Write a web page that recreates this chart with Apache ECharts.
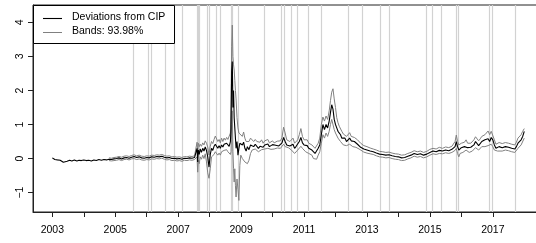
<!DOCTYPE html>
<html>
<head>
<meta charset="utf-8">
<script src="https://cdn.jsdelivr.net/npm/echarts@6/dist/echarts.min.js"></script>
<style>html,body{margin:0;padding:0;background:#fff}#c{width:536px;height:243px}</style>
</head>
<body>
<div id="c"></div>
<script>
// ---- data (decimal years) ----
const t = [
2003.00,2003.04,2003.08,2003.12,2003.16,2003.20,2003.25,2003.30,2003.35,2003.40,2003.47,2003.55,2003.62,2003.70,2003.78,2003.85,2003.92,2004.00,2004.08,2004.16,2004.24,2004.32,2004.40,2004.48,2004.56,2004.64,2004.72,2004.80,2004.88,2004.96,
2005.04,2005.12,2005.20,2005.28,2005.36,2005.44,2005.52,2005.60,2005.68,2005.76,2005.84,2005.92,2006.00,2006.08,2006.16,2006.24,2006.32,2006.40,2006.48,2006.56,2006.64,2006.72,2006.80,2006.88,2006.96,2007.04,2007.12,2007.20,2007.28,2007.36,2007.44,2007.52,2007.57,
2007.60,2007.62,2007.64,2007.67,2007.70,2007.74,2007.78,2007.82,2007.86,2007.90,2007.94,2007.98,2008.02,2008.06,2008.10,2008.14,2008.18,2008.22,2008.26,2008.30,2008.34,2008.38,2008.42,2008.46,2008.50,2008.54,2008.58,2008.62,2008.66,
2008.68,2008.70,2008.72,2008.74,2008.76,2008.78,2008.80,2008.82,2008.84,2008.87,2008.90,2008.93,2008.96,2008.99,
2009.04,2009.08,2009.12,2009.16,2009.20,2009.25,2009.30,2009.35,2009.40,2009.45,2009.50,2009.55,2009.60,2009.65,2009.70,2009.75,2009.80,2009.85,2009.90,2009.95,
2010.00,2010.05,2010.10,2010.15,2010.20,2010.25,2010.30,2010.35,2010.40,2010.45,2010.50,2010.55,2010.60,2010.65,2010.70,2010.75,2010.80,2010.85,2010.90,2010.95,
2011.00,2011.05,2011.10,2011.15,2011.20,2011.25,2011.30,2011.35,2011.40,2011.45,2011.50,
2011.55,2011.60,2011.65,2011.70,2011.75,2011.80,2011.84,2011.88,2011.92,2011.96,2012.00,2012.04,2012.08,2012.12,2012.16,2012.20,2012.25,2012.30,2012.35,2012.40,2012.45,2012.50,2012.55,2012.60,2012.65,2012.70,2012.75,2012.80,
2012.90,2013.00,2013.10,2013.20,2013.30,2013.40,2013.50,2013.60,2013.70,2013.80,2013.90,2014.00,2014.10,2014.20,2014.30,2014.40,2014.50,2014.60,2014.70,2014.80,2014.90,2015.00,2015.10,2015.20,2015.30,2015.40,2015.50,2015.60,2015.70,2015.76,2015.80,2015.84,2015.88,2015.92,2015.96,2016.00,
2016.05,2016.10,2016.15,2016.20,2016.25,2016.30,2016.35,2016.40,2016.45,2016.50,2016.55,2016.60,2016.65,2016.70,2016.75,2016.80,2016.85,2016.90,2016.95,2017.00,2017.05,2017.10,2017.15,2017.20,2017.30,2017.40,2017.50,2017.60,2017.70,2017.75,2017.80,2017.85,2017.90,2017.95,2018.00
];
const dev = [
0.02,0.00,-0.03,0.01,-0.04,-0.09,-0.05,-0.08,-0.11,-0.06,-0.08,-0.05,-0.07,-0.04,-0.07,-0.05,-0.06,-0.04,-0.06,-0.05,-0.07,-0.04,-0.06,-0.03,-0.05,-0.03,-0.04,-0.02,-0.03,-0.01,
0.00,0.02,-0.01,0.02,0.03,0.01,0.04,0.06,0.03,0.05,0.02,0.01,0.03,0.02,0.05,0.04,0.06,0.05,0.07,0.04,0.02,0.03,0.00,0.01,-0.01,0.00,-0.02,0.01,0.00,0.02,0.01,0.03,0.04,
0.30,-0.10,0.25,0.12,0.28,0.18,0.30,0.22,0.34,0.24,0.05,-0.25,0.12,0.30,0.24,0.36,0.42,0.46,0.30,0.38,0.30,0.40,0.34,0.42,0.37,0.45,0.40,0.36,0.50,
0.90,2.55,2.85,1.50,2.00,1.20,0.90,0.60,0.30,0.50,0.10,0.30,0.45,0.50,
0.40,0.48,0.30,0.22,0.35,0.26,0.40,0.45,0.35,0.42,0.38,0.30,0.36,0.40,0.33,0.40,0.36,0.43,0.35,0.38,
0.41,0.36,0.39,0.41,0.37,0.40,0.46,0.62,0.50,0.40,0.43,0.37,0.35,0.42,0.30,0.36,0.40,0.50,0.62,0.46,
0.40,0.35,0.38,0.30,0.33,0.25,0.20,0.15,0.20,0.30,0.40,
0.70,1.00,0.85,1.00,0.90,1.10,1.35,1.58,1.45,1.15,1.00,0.90,0.80,0.75,0.70,0.60,0.55,0.60,0.50,0.55,0.60,0.52,0.48,0.50,0.45,0.42,0.38,0.33,
0.28,0.25,0.22,0.20,0.16,0.13,0.12,0.10,0.11,0.08,0.06,0.05,0.02,0.03,0.07,0.10,0.15,0.12,0.14,0.10,0.13,0.18,0.22,0.20,0.24,0.22,0.25,0.23,0.27,0.30,0.35,0.50,0.35,0.25,0.30,0.32,
0.30,0.35,0.40,0.32,0.30,0.33,0.36,0.40,0.50,0.45,0.38,0.42,0.50,0.45,0.55,0.50,0.58,0.50,0.62,0.55,0.40,0.30,0.33,0.35,0.32,0.35,0.33,0.30,0.28,0.35,0.45,0.50,0.55,0.65,0.80
];
const lo = [
null,null,null,null,null,null,null,null,null,null,null,null,null,null,null,null,null,null,null,null,null,null,null,null,null,null,null,-0.06,-0.07,-0.06,
-0.05,-0.03,-0.06,-0.03,-0.02,-0.04,-0.01,0.00,-0.03,-0.01,-0.04,-0.05,-0.03,-0.04,-0.01,-0.02,0.00,-0.01,0.01,-0.02,-0.04,-0.03,-0.06,-0.05,-0.07,-0.06,-0.08,-0.05,-0.06,-0.04,-0.05,-0.03,-0.02,
0.05,-0.40,-0.05,-0.15,0.05,-0.02,0.10,0.00,0.14,-0.10,-0.42,-0.58,-0.30,0.05,0.00,0.12,0.20,0.25,0.10,0.16,0.10,0.20,0.18,0.24,0.20,0.26,0.20,0.15,0.12,
0.20,1.00,1.40,0.20,-0.30,-0.69,-0.30,-0.80,-1.13,-0.60,-0.90,-1.23,-0.20,0.10,
0.00,-0.05,-0.10,-0.08,-0.15,-0.05,0.15,0.25,0.20,0.28,0.25,0.20,0.22,0.26,0.22,0.28,0.25,0.30,0.25,0.27,
0.30,0.28,0.30,0.31,0.28,0.30,0.32,0.42,0.35,0.30,0.32,0.28,0.25,0.30,0.15,0.20,0.25,0.30,0.36,0.30,
0.25,0.20,0.22,0.15,0.18,0.10,0.00,-0.05,-0.02,0.10,0.20,
0.45,0.70,0.60,0.75,0.65,0.80,1.00,1.15,1.10,0.85,0.75,0.70,0.60,0.55,0.50,0.45,0.40,0.45,0.38,0.40,0.42,0.38,0.35,0.38,0.33,0.30,0.28,0.24,
0.19,0.16,0.14,0.12,0.08,0.05,0.04,0.02,0.03,0.00,-0.02,-0.03,-0.06,-0.05,-0.01,0.02,0.07,0.04,0.06,0.02,0.05,0.10,0.14,0.12,0.15,0.14,0.17,0.15,0.18,0.20,0.24,0.30,0.15,0.05,0.15,0.20,
0.18,0.22,0.25,0.20,0.18,0.20,0.22,0.25,0.32,0.30,0.25,0.28,0.35,0.30,0.35,0.32,0.38,0.35,0.42,0.35,0.25,0.20,0.22,0.24,0.22,0.25,0.23,0.20,0.18,0.22,0.30,0.35,0.40,0.45,0.60
];
const up = [
null,null,null,null,null,null,null,null,null,null,null,null,null,null,null,null,null,null,null,null,null,null,null,null,null,null,null,0.02,0.01,0.03,
0.04,0.06,0.04,0.07,0.08,0.06,0.09,0.11,0.08,0.10,0.07,0.06,0.08,0.07,0.10,0.09,0.11,0.10,0.12,0.09,0.07,0.08,0.05,0.06,0.04,0.05,0.03,0.06,0.05,0.07,0.06,0.08,0.10,
0.48,0.20,0.45,0.35,0.42,0.36,0.46,0.40,0.52,0.45,0.34,0.10,0.36,0.50,0.44,0.56,0.66,0.70,0.50,0.56,0.46,0.60,0.50,0.60,0.54,0.62,0.56,0.52,0.75,
1.60,3.30,3.92,3.00,2.75,2.60,2.30,2.00,1.75,1.20,0.90,0.75,0.70,0.70,
0.65,0.78,0.60,0.50,0.55,0.50,0.60,0.62,0.50,0.56,0.50,0.45,0.48,0.55,0.45,0.52,0.47,0.56,0.46,0.50,
0.52,0.46,0.49,0.51,0.48,0.52,0.62,0.92,0.75,0.55,0.56,0.50,0.50,0.60,0.45,0.50,0.55,0.70,0.88,0.65,
0.55,0.50,0.55,0.45,0.50,0.40,0.35,0.30,0.35,0.45,0.60,
1.00,1.22,1.10,1.25,1.15,1.40,1.70,1.95,2.05,1.75,1.50,1.20,1.05,0.95,0.90,0.80,0.72,0.75,0.65,0.70,0.76,0.65,0.60,0.62,0.58,0.55,0.50,0.45,
0.38,0.35,0.31,0.28,0.25,0.21,0.20,0.18,0.19,0.16,0.14,0.13,0.10,0.11,0.15,0.18,0.23,0.20,0.22,0.18,0.21,0.27,0.30,0.28,0.33,0.30,0.34,0.32,0.36,0.40,0.50,0.69,0.50,0.40,0.42,0.45,
0.42,0.48,0.55,0.45,0.42,0.45,0.48,0.55,0.64,0.62,0.52,0.58,0.65,0.60,0.70,0.65,0.81,0.70,0.80,0.75,0.55,0.42,0.45,0.47,0.44,0.47,0.45,0.42,0.40,0.48,0.60,0.65,0.70,0.80,0.88
];
// vertical reference lines (decimal years)
const vlines = [2005.58,2006.06,2006.13,2006.58,2006.86,2007.12,2007.61,2007.64,2007.68,2007.93,2007.99,2008.21,2008.35,2008.68,2008.73,2008.90,2009.73,2010.29,2010.36,2010.58,2010.78,2011.14,2011.54,2012.40,2012.84,2013.43,2013.70,2014.88,2015.08,2015.36,2015.85,2015.90,2016.89,2016.98,2017.70];
const xTicks = [2003,2004,2005,2006,2007,2008,2009,2010,2011,2012,2013,2014,2015,2016,2017];
const xLabels = [2003,2005,2007,2009,2011,2013,2015,2017];
const yTicks = [-1,0,1,2,3,4];
const legendNames = ['Deviations from CIP','Bands: 93.98%'];

// ---- chart ----
const FONT = "'Liberation Sans', Arial, Helvetica, sans-serif";
const AX = '#222';
const pair = arr => t.map((x, i) => [x, arr[i]]);
const chart = echarts.init(document.getElementById('c'), null, {renderer: 'canvas'});
chart.setOption({
  animation: false,
  grid: {left: 33, right: -4, top: 5, bottom: 31, show: true, borderColor: AX, borderWidth: 1, containLabel: false, outerBoundsMode: 'none'},
  xAxis: {
    type: 'value', min: 2002.386, max: 2018.5,
    splitLine: {show: false},
    axisLine: {show: true, onZero: false, lineStyle: {color: AX, width: 1}},
    axisTick: {show: true, customValues: xTicks, length: 5, lineStyle: {color: AX, width: 1}},
    axisLabel: {customValues: xLabels, fontSize: 10.5, color: '#000', fontFamily: FONT, margin: 13, formatter: v => String(v)}
  },
  yAxis: {
    type: 'value', min: -1.57, max: 4.51,
    splitLine: {show: false},
    axisLine: {show: true, onZero: false, lineStyle: {color: AX, width: 1}},
    axisTick: {show: true, customValues: yTicks, length: 5, lineStyle: {color: AX, width: 1}},
    axisLabel: {customValues: yTicks, rotate: 90, margin: 7, fontSize: 10.5, color: '#000', fontFamily: FONT,
      formatter: v => (v < 0 ? '\u2212' + Math.abs(v) : String(v))}
  },
  series: [
    {type: 'line', data: [], z: 1, silent: true,
     markLine: {silent: true, z: 1, symbol: ['none', 'none'], label: {show: false}, emphasis: {disabled: true},
       lineStyle: {color: '#d2d2d2', width: 1.2, type: 'solid'},
       data: vlines.map(v => ({xAxis: v}))}},
    {type: 'line', name: legendNames[1], data: pair(up), symbol: 'none', z: 2, silent: true,
     lineStyle: {color: '#808080', width: 1}},
    {type: 'line', name: legendNames[1] + ' lower', data: pair(lo), symbol: 'none', z: 2, silent: true,
     lineStyle: {color: '#808080', width: 1}},
    {type: 'line', name: legendNames[0], data: pair(dev), symbol: 'none', z: 3, silent: true,
     lineStyle: {color: '#000', width: 1.1}}
  ],
  graphic: [
    {type: 'rect', z: 100, silent: true, shape: {x: 33.5, y: 5.5, width: 141, height: 38}, style: {fill: '#fff', stroke: '#000', lineWidth: 1}},
    {type: 'line', z: 101, silent: true, shape: {x1: 43, y1: 18.5, x2: 62, y2: 18.5}, style: {stroke: '#000', lineWidth: 1.1}},
    {type: 'line', z: 101, silent: true, shape: {x1: 43, y1: 32.5, x2: 62, y2: 32.5}, style: {stroke: '#808080', lineWidth: 1}},
    {type: 'text', z: 101, silent: true, x: 72, y: 17.5, style: {text: legendNames[0], fontSize: 10.5, fontFamily: FONT, fill: '#000', verticalAlign: 'middle'}},
    {type: 'text', z: 101, silent: true, x: 72, y: 31.5, style: {text: legendNames[1], fontSize: 10.5, fontFamily: FONT, fill: '#000', verticalAlign: 'middle'}}
  ]
});
</script>
</body>
</html>
